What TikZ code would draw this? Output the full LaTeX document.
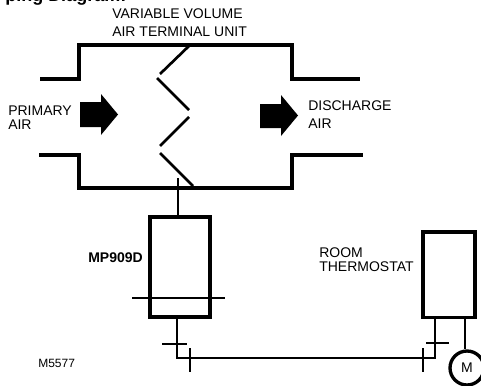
\documentclass[tikz,border=0pt]{standalone}
\usepackage{fontspec}
\setmainfont{Liberation Sans}
\tikzset{
 duct/.style={line width=3pt,line cap=rect,line join=miter},
 blade/.style={line width=2pt},
 wire/.style={line width=1.5pt},
 boxx/.style={draw,line width=2.5pt,minimum width=0pt,inner sep=0pt},
 lbl/.style={inner sep=0pt,anchor=base west,align=left,font=\fontsize{10.5pt}{12pt}\selectfont},
 bigarrow/.style={fill=black,draw=none},
}
\begin{document}
\begin{tikzpicture}[x=0.75pt,y=-0.75pt]
\useasboundingbox (0,0) rectangle (481,385);
\clip (0,0) rectangle (481,385);
% title
\node[lbl,font=\bfseries\fontsize{13.5pt}{15pt}\selectfont] (title) at (5,2) {ping Diagram:};
% duct
\draw[duct] (42,79) -- (79,79) -- (79,45) -- (292,45) -- (292,79) -- (358,79);
\draw[duct] (41,155) -- (79,155) -- (79,188) -- (292,188) -- (292,155) -- (361,155);
% blades
\draw[blade] (190,45) -- (160,74);
\draw[blade] (157,78) -- (189,110);
\draw[blade] (189,117) -- (160,146);
\draw[blade] (160,153) -- (193,186);
% arrows
\fill[bigarrow] (80,102) -- (101,102) -- (101,94) -- (118,114.5) -- (101,135) -- (101,127) -- (80,127) -- cycle;
\fill[bigarrow] (260,104) -- (281,104) -- (281,95) -- (298,115.5) -- (281,136) -- (281,128) -- (260,128) -- cycle;
% boxes
\node[boxx,minimum width=45pt,minimum height=75pt] (mp) at (180,267) {};
\node[boxx,minimum width=39pt,minimum height=64pt] (ts) at (449,274.5) {};
\node[draw,circle,line width=2.5pt,minimum size=25.5pt,inner sep=0pt,font=\fontsize{10.5pt}{12pt}\selectfont] (motor) at (467,368) {M};
% named points
\coordinate (stemtop) at (178,178);
\coordinate (stembot) at (178,216);
\coordinate (crossl) at (132,298);
\coordinate (crossr) at (225,298);
\coordinate (mpout) at (177,317);
\coordinate (cornerl) at (177,358);
\coordinate (tsout) at (435,317);
\coordinate (cornerr) at (435,358);
\coordinate (tsm) at (465,317);
\coordinate (hl1) at (162,344);
\coordinate (hl2) at (187,344);
\coordinate (hr1) at (426,343);
\coordinate (hr2) at (449,343);
\coordinate (tl1) at (190,348);
\coordinate (tl2) at (190,372);
\coordinate (tr1) at (423,348);
\coordinate (tr2) at (423,372);
% wires
\draw[wire] (stemtop) -- (stembot);
\draw[wire] (crossl) -- (crossr);
\draw[wire] (mpout) -- (cornerl) -- (cornerr) -- (tsout);
\draw[wire] (tsm) -- (motor.north -| tsm);
\draw[wire] (hl1) -- (hl2);
\draw[wire] (hr1) -- (hr2);
\draw[wire] (tl1) -- (tl2);
\draw[wire] (tr1) -- (tr2);
% labels
\node[lbl] (l1) at (112,19) {VARIABLE VOLUME};
\node[lbl] (l2) at (112,37) {AIR TERMINAL UNIT};
\node[lbl] (l3) at (8,115) {PRIMARY};
\node[lbl] (l4) at (8,129) {AIR};
\node[lbl] (l5) at (308,110) {DISCHARGE};
\node[lbl] (l6) at (308,128) {AIR};
\node[lbl,font=\bfseries\fontsize{10.5pt}{12pt}\selectfont] (l7) at (88,262) {MP909D};
\node[lbl] (l8) at (319,257) {ROOM};
\node[lbl] (l9) at (319,271) {THERMOSTAT};
\node[lbl,font=\fontsize{9pt}{10pt}\selectfont] (l10) at (38,367) {M5577};
\end{tikzpicture}
\end{document}
